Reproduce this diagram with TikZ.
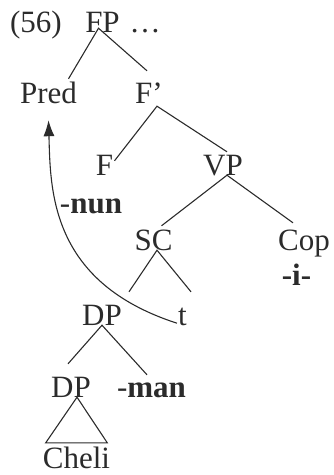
\documentclass[tikz,border=0pt]{standalone}
\usepackage{fontspec}
\setmainfont{Liberation Serif}
\usetikzlibrary{arrows.meta}
\definecolor{ink}{HTML}{2B2B2B}
\begin{document}
\begin{tikzpicture}[x=1pt, y=-1pt,
        every node/.style={inner sep=0pt, anchor=base, text height=21pt, text depth=0pt, text=ink, font=\fontsize{31}{37}\selectfont},
        rama/.style={draw=ink, line width=1.1pt},
        flecha/.style={-{Latex[length=16pt,width=11pt]}, draw=ink, line width=1.1pt}
    ]
    \useasboundingbox (0,0) rectangle (334,475);
    \node (ex) at (36,32) {(56)};
    \node (FP) at (102.5,32) {FP};
    \node (dots) at (145,32) {…};
    \node (Pred) at (48.5,103) {Pred};
    \node (Fbar) at (149,103) {F’};
    \node (F) at (104.5,175) {F};
    \node (VP) at (223,175) {VP};
    \node (nun) at (91,213) {-\textbf{nun}};
    \node (SC) at (153.5,250) {SC};
    \node (Cop) at (304,250) {Cop};
    \node (i) at (296.5,285) {\textbf{-i-}};
    \node (DP) at (102,325) {DP};
    \node (t) at (182.5,325) {t};
    \node (DPb) at (71,397) {DP};
    \node (man) at (151.5,397) {-\textbf{man}};
    \node (Cheli) at (76.5,468) {Cheli};

    \draw[rama] ([xshift=20pt,yshift=3pt]Pred.north) -- ([xshift=-4pt,yshift=4pt]FP.south) -- ([xshift=-2pt,yshift=11pt]Fbar.north);
    \draw[rama] ([xshift=10pt,yshift=-7pt]F.north) -- ([xshift=8pt,yshift=-3pt]Fbar.south) -- ([xshift=4pt,yshift=2pt]VP.north);
    \draw[rama] ([xshift=8pt,yshift=3pt]SC.north) -- ([xshift=4pt]VP.south) -- ([xshift=-11pt,yshift=6pt]Cop.north);
    \draw[rama] ([xshift=27pt,yshift=12pt]DP.north) -- ([xshift=3.5pt]SC.south) -- ([xshift=8.5pt,yshift=12pt]t.north);
    \draw[rama] ([xshift=-3pt,yshift=12pt]DPb.north) -- (DP.south) -- ([xshift=-4.5pt,yshift=1pt]man.north);
    \draw[rama] ([xshift=6pt]DPb.south) -- ([xshift=3pt,yshift=4pt]Cheli.north west) -- ([xshift=-3pt,yshift=4pt]Cheli.north east) -- cycle;

    % movement
    \draw[flecha] ([xshift=-1pt,yshift=2pt]t.south west) .. controls +(-127,-41) and +(2,70) .. ([yshift=-17pt]Pred.south);
\end{tikzpicture}
\end{document}
